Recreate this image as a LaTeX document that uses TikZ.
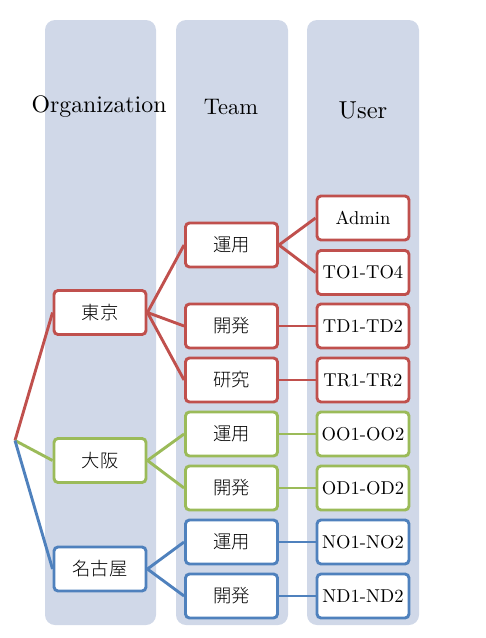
\documentclass[tikz,border=0pt]{standalone}
\usepackage{fontspec}
\newfontfamily\jp{Noto Sans CJK JP Light}
\newfontfamily\lmten{lmroman10-regular.otf}
\definecolor{cred}{HTML}{C0504D}
\definecolor{cgreen}{HTML}{9BBB59}
\definecolor{cblue}{HTML}{4F81BD}
\definecolor{colbg}{HTML}{D0D8E8}
\begin{document}
\begin{tikzpicture}[x=1pt,y=-1pt,
  column/.style={fill=colbg, rounded corners=10pt},
  box/.style={draw, fill=white, line width=2.9pt, rounded corners=4pt,
    minimum width=92pt, minimum height=44pt, inner sep=0pt,
    font=\lmten\fontsize{18.6}{22}\selectfont},
  jbox/.style={box, font=\jp\fontsize{18.3}{22}\selectfont},
  hdr/.style={inner sep=0pt},
  link/.style={line width=2.9pt}]
\useasboundingbox (0,0) rectangle (486,638);
% columns
\fill[column] (45,20) rectangle (156,625);
\fill[column] (176,20) rectangle (288,625);
\fill[column] (307,20) rectangle (419,625);
% headers
\node[hdr, font=\lmten\fontsize{23.8}{28}\selectfont] (horg) at (99,107) {Organization};
\node[hdr, font=\lmten\fontsize{22.5}{28}\selectfont] (hteam) at (231,107) {Team};
\node[hdr, font=\lmten\fontsize{24.5}{28}\selectfont] (huser) at (363,110) {User};
% root
\coordinate (root) at (15,440.5);
% org
\node[jbox, draw=cred] (tokyo) at (100,312.5) {東京};
\node[jbox, draw=cgreen] (osaka) at (100,460.5) {大阪};
\node[jbox, draw=cblue] (nagoya) at (100,569) {名古屋};
% teams
\node[jbox, draw=cred] (tops) at (231.5,245) {運用};
\node[jbox, draw=cred] (tdev) at (231.5,326) {開発};
\node[jbox, draw=cred] (tres) at (231.5,380) {研究};
\node[jbox, draw=cgreen] (oops) at (231.5,434) {運用};
\node[jbox, draw=cgreen] (odev) at (231.5,488) {開発};
\node[jbox, draw=cblue] (nops) at (231.5,542) {運用};
\node[jbox, draw=cblue] (ndev) at (231.5,596) {開発};
% users
\node[box, draw=cred] (admin) at (363,218) {Admin};
\node[box, draw=cred] (to) at (363,272.5) {TO1-TO4};
\node[box, draw=cred] (td) at (363,326) {TD1-TD2};
\node[box, draw=cred] (tr) at (363,380) {TR1-TR2};
\node[box, draw=cgreen] (oo) at (363,434) {OO1-OO2};
\node[box, draw=cgreen] (od) at (363,488) {OD1-OD2};
\node[box, draw=cblue] (no) at (363,542) {NO1-NO2};
\node[box, draw=cblue] (nd) at (363,596) {ND1-ND2};
% links
\draw[link, cred] (root) -- (tokyo.west);
\draw[link, cgreen] (root) -- (osaka.west);
\draw[link, cblue] (root) -- (nagoya.west);
\draw[link, cred] (tokyo.east) -- (tops.west);
\draw[link, cred] (tokyo.east) -- (tdev.west);
\draw[link, cred] (tokyo.east) -- (tres.west);
\draw[link, cgreen] (osaka.east) -- (oops.west);
\draw[link, cgreen] (osaka.east) -- (odev.west);
\draw[link, cblue] (nagoya.east) -- (nops.west);
\draw[link, cblue] (nagoya.east) -- (ndev.west);
\draw[link, cred] (tops.east) -- (admin.west);
\draw[link, cred] (tops.east) -- (to.west);
\draw[link, cred] (tdev.east) -- (td.west);
\draw[link, cred] (tres.east) -- (tr.west);
\draw[link, cgreen] (oops.east) -- (oo.west);
\draw[link, cgreen] (odev.east) -- (od.west);
\draw[link, cblue] (nops.east) -- (no.west);
\draw[link, cblue] (ndev.east) -- (nd.west);
\end{tikzpicture}
\end{document}
